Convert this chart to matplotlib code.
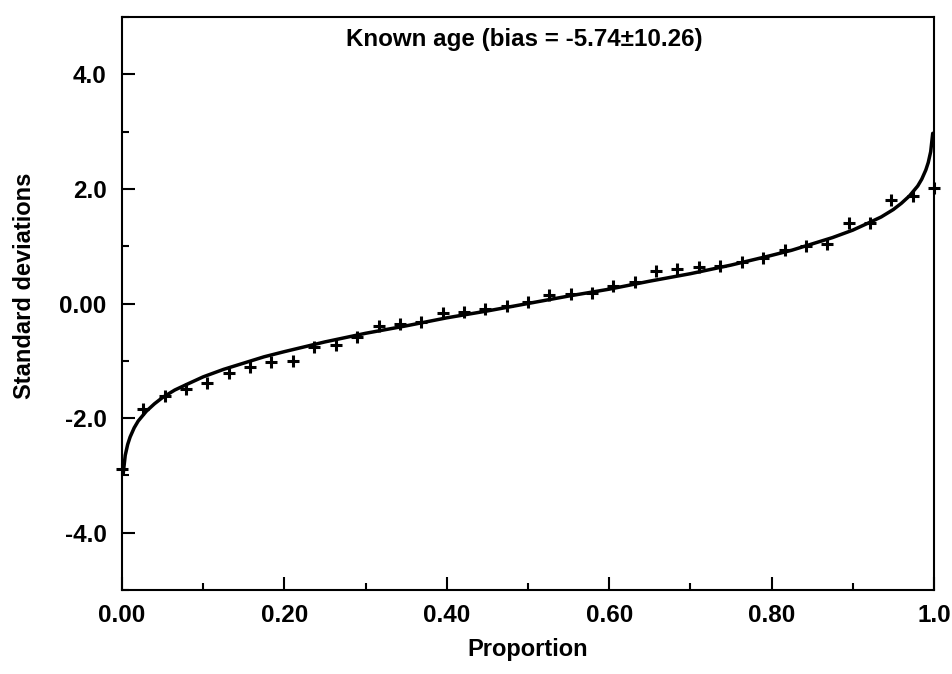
import matplotlib
matplotlib.use("Agg")
import matplotlib.pyplot as plt
from matplotlib.ticker import MultipleLocator

plt.rcParams['font.family'] = ['Liberation Sans', 'DejaVu Sans']
plt.rcParams['font.weight'] = 'bold'
plt.rcParams['axes.unicode_minus'] = False

proportion = [0.000, 0.026, 0.053, 0.079, 0.105, 0.132, 0.158, 0.184, 0.211, 0.237,
              0.263, 0.289, 0.316, 0.342, 0.368, 0.395, 0.421, 0.447, 0.474, 0.500,
              0.526, 0.553, 0.579, 0.605, 0.632, 0.658, 0.684, 0.711, 0.737, 0.763,
              0.789, 0.816, 0.842, 0.868, 0.895, 0.921, 0.947, 0.974, 1.000]
std_dev = [-2.89, -1.84, -1.62, -1.49, -1.38, -1.21, -1.10, -1.02, -1.01, -0.76,
           -0.73, -0.58, -0.39, -0.35, -0.32, -0.16, -0.14, -0.10, -0.04, 0.03,
           0.14, 0.17, 0.18, 0.31, 0.38, 0.56, 0.60, 0.64, 0.65, 0.73,
           0.79, 0.94, 1.00, 1.03, 1.41, 1.41, 1.80, 1.87, 2.02]

# expected (normal) curve
curve_x = [0.0015, 0.004, 0.007, 0.01, 0.015, 0.02, 0.03, 0.04, 0.05, 0.065, 0.08,
           0.10, 0.125, 0.15, 0.175, 0.20, 0.25, 0.30, 0.35, 0.40, 0.45, 0.50,
           0.55, 0.60, 0.65, 0.70, 0.75, 0.80, 0.825, 0.85, 0.875, 0.90, 0.92,
           0.935, 0.95, 0.96, 0.97, 0.98, 0.985, 0.99, 0.993, 0.996, 0.9985]
curve_y = [-2.97, -2.65, -2.46, -2.33, -2.17, -2.05, -1.88, -1.75, -1.64, -1.51, -1.41,
           -1.28, -1.15, -1.04, -0.93, -0.84, -0.67, -0.52, -0.39, -0.25, -0.13, 0.00,
           0.13, 0.25, 0.39, 0.52, 0.67, 0.84, 0.93, 1.04, 1.15, 1.28, 1.41,
           1.51, 1.64, 1.75, 1.88, 2.05, 2.17, 2.33, 2.46, 2.65, 2.97]

x_ticks = [0.0, 0.2, 0.4, 0.6, 0.8, 1.0]
x_labels = ['0.00', '0.20', '0.40', '0.60', '0.80', '1.0']
y_ticks = [-4, -2, 0, 2, 4]
y_labels = ['-4.0', '-2.0', '0.00', '2.0', '4.0']

fig = plt.figure(figsize=(9.53, 6.74), dpi=100)
ax = fig.add_axes([0.128, 0.1246, 0.852, 0.8502])

ax.plot(curve_x, curve_y, color='black', lw=2.5, solid_capstyle='round')
ax.plot(proportion, std_dev, linestyle='none', marker='+', color='black',
        markersize=9, markeredgewidth=2.2, clip_on=False)

ax.set_xlim(0, 1)
ax.set_ylim(-5, 5)
ax.set_xticks(x_ticks)
ax.set_xticklabels(x_labels)
ax.set_yticks(y_ticks)
ax.set_yticklabels(y_labels)
ax.xaxis.set_minor_locator(MultipleLocator(0.1))
ax.yaxis.set_minor_locator(MultipleLocator(1))

ax.tick_params(which='both', direction='in', width=1.5, labelsize=17.5)
ax.tick_params(which='major', length=9.5)
ax.tick_params(which='minor', length=5)
ax.tick_params(axis='y', pad=11)
ax.tick_params(axis='x', pad=10)
for s in ax.spines.values():
    s.set_linewidth(1.5)

ax.text(0.495, 0.96, 'Known age (bias = -5.74\u00b110.26)', transform=ax.transAxes,
        ha='center', va='center', fontsize=17.4, fontweight='bold')
ax.set_xlabel('Proportion', fontsize=17, fontweight='bold', labelpad=8)
fig.text(0.026, 0.576, 'Standard deviations', rotation=90, ha='center', va='center',
         fontsize=17, fontweight='bold')

fig.savefig('out.png', dpi=100, facecolor='white')
